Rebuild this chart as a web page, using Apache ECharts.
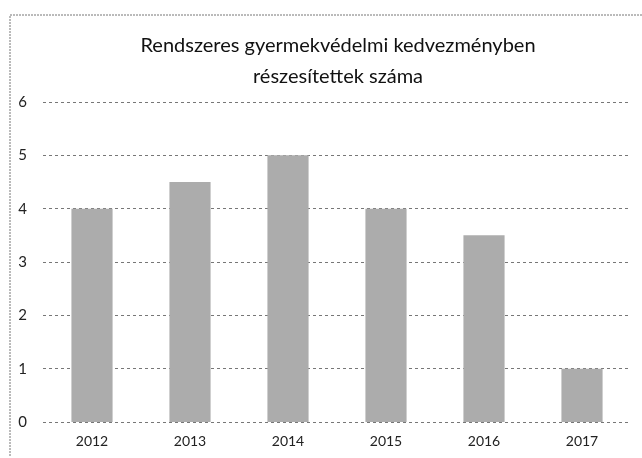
<!DOCTYPE html>
<html>
<head>
<meta charset="utf-8">
<script src="https://cdn.jsdelivr.net/npm/echarts@6/dist/echarts.min.js"></script>
<style>
  html, body { margin: 0; padding: 0; background: #fff; }
  #chart { width: 642px; height: 458px; }
</style>
</head>
<body>
<div id="chart"></div>
<script>
// évek és értékek
var years = ['2012', '2013', '2014', '2015', '2016', '2017'];
var values = [4, 4.5, 5, 4, 3.5, 1];
var yTicks = [0, 1, 2, 3, 4, 5, 6];

var myChart = echarts.init(document.getElementById('chart'));
var option = {
	backgroundColor: '#fff',
	animation: false,
	title: {
		text: 'Rendszeres gyermekvédelmi kedvezményben\nrészesítettek száma',
		left: 333,
		textAlign: 'center',
		top: 25,
		textStyle: {
			color: '#111',
			fontFamily: 'Lato',
			fontWeight: 'normal',
			fontSize: 20,
			lineHeight: 31
		}
	},
	graphic: [{
		type: 'polyline',
		shape: { points: [[10, 456], [10, 15], [642, 15]] },
		style: { stroke: '#777', lineWidth: 1, fill: null, lineDash: [2, 1] }
	}],
	grid: {
		left: 43,
		right: 11,
		top: 102,
		bottom: 36
	},
	xAxis: {
		type: 'category',
		data: years,
		axisLine: { show: false },
		axisTick: { show: false },
		axisLabel: {
			color: '#222',
			fontFamily: 'Lato',
			fontSize: 14,
			margin: 12
		}
	},
	yAxis: {
		type: 'value',
		min: yTicks[0],
		max: yTicks[yTicks.length - 1],
		interval: 1,
		axisLine: { show: false },
		axisTick: { show: false },
		axisLabel: {
			color: '#222',
			fontFamily: 'Lato',
			fontSize: 15,
			margin: 16
		},
		splitLine: {
			lineStyle: { color: '#777', width: 1, type: [3, 3] }
		}
	},
	series: [{
		type: 'bar',
		data: values,
		barWidth: '42%',
		itemStyle: { color: '#acacac' }
	}]
};
myChart.setOption(option);
</script>
</body>
</html>
